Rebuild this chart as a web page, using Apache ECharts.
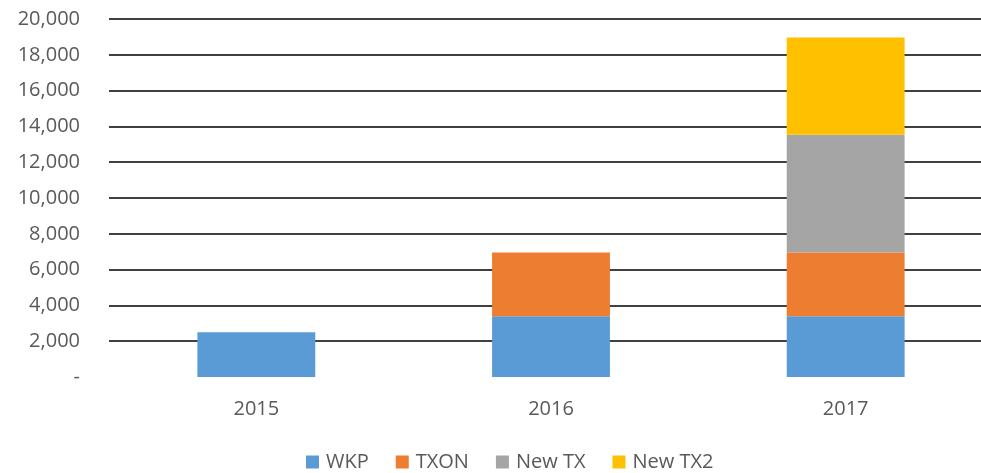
<!DOCTYPE html>
<html><head><meta charset="utf-8">
<script src="https://cdn.jsdelivr.net/npm/echarts@6/dist/echarts.min.js"></script>
<style>html,body{margin:0;padding:0;background:#fff}#c{width:981px;height:473px}</style>
</head><body><div id="c"></div>
<script>
const categories = ['2015', '2016', '2017'];
const wkp = [2500, 3400, 3400];
const txon = [null, 3550, 3550];
const newTx = [null, null, 6580];
const newTx2 = [null, null, 5430];
const seriesNames = ['WKP', 'TXON', 'New TX', 'New TX2'];
const colors = ['#5B9BD5', '#ED7D31', '#A5A5A5', '#FFC000'];
const yTicks = { min: 0, max: 20000, interval: 2000 };

const chart = echarts.init(document.getElementById('c'));
const font = '"Open Sans", "Liberation Sans", sans-serif';
const mk = (name, data, i) => ({
  name, type: 'bar', stack: 'total', data, barWidth: '40%',
  itemStyle: { color: colors[i] }
});
chart.setOption({
  animation: false,
  color: colors,
  grid: { left: 109, top: 19, width: 884, height: 358, outerBoundsMode: 'none' },
  xAxis: {
    type: 'category', data: categories,
    axisLine: { show: false }, axisTick: { show: false },
    axisLabel: { color: '#595959', fontSize: 20, fontFamily: font, margin: 22 }
  },
  yAxis: {
    type: 'value', min: yTicks.min, max: yTicks.max, interval: yTicks.interval,
    axisLine: { show: false }, axisTick: { show: false },
    splitLine: { show: true, showMinLine: false, lineStyle: { color: '#000', width: 1.5 } },
    axisLabel: {
      color: '#595959', fontSize: 20, fontFamily: font, margin: 29,
      formatter: v => v === 0 ? '-' : v.toLocaleString('en-US')
    }
  },
  legend: {
    bottom: -4, left: 301, itemWidth: 13, itemHeight: 13, itemGap: 27,
    icon: 'rect',
    textStyle: { color: '#595959', fontSize: 20, fontFamily: font, padding: [0, 0, 0, 2] },
    data: seriesNames
  },
  series: [mk(seriesNames[0], wkp, 0), mk(seriesNames[1], txon, 1), mk(seriesNames[2], newTx, 2), mk(seriesNames[3], newTx2, 3)]
});
</script></body></html>
